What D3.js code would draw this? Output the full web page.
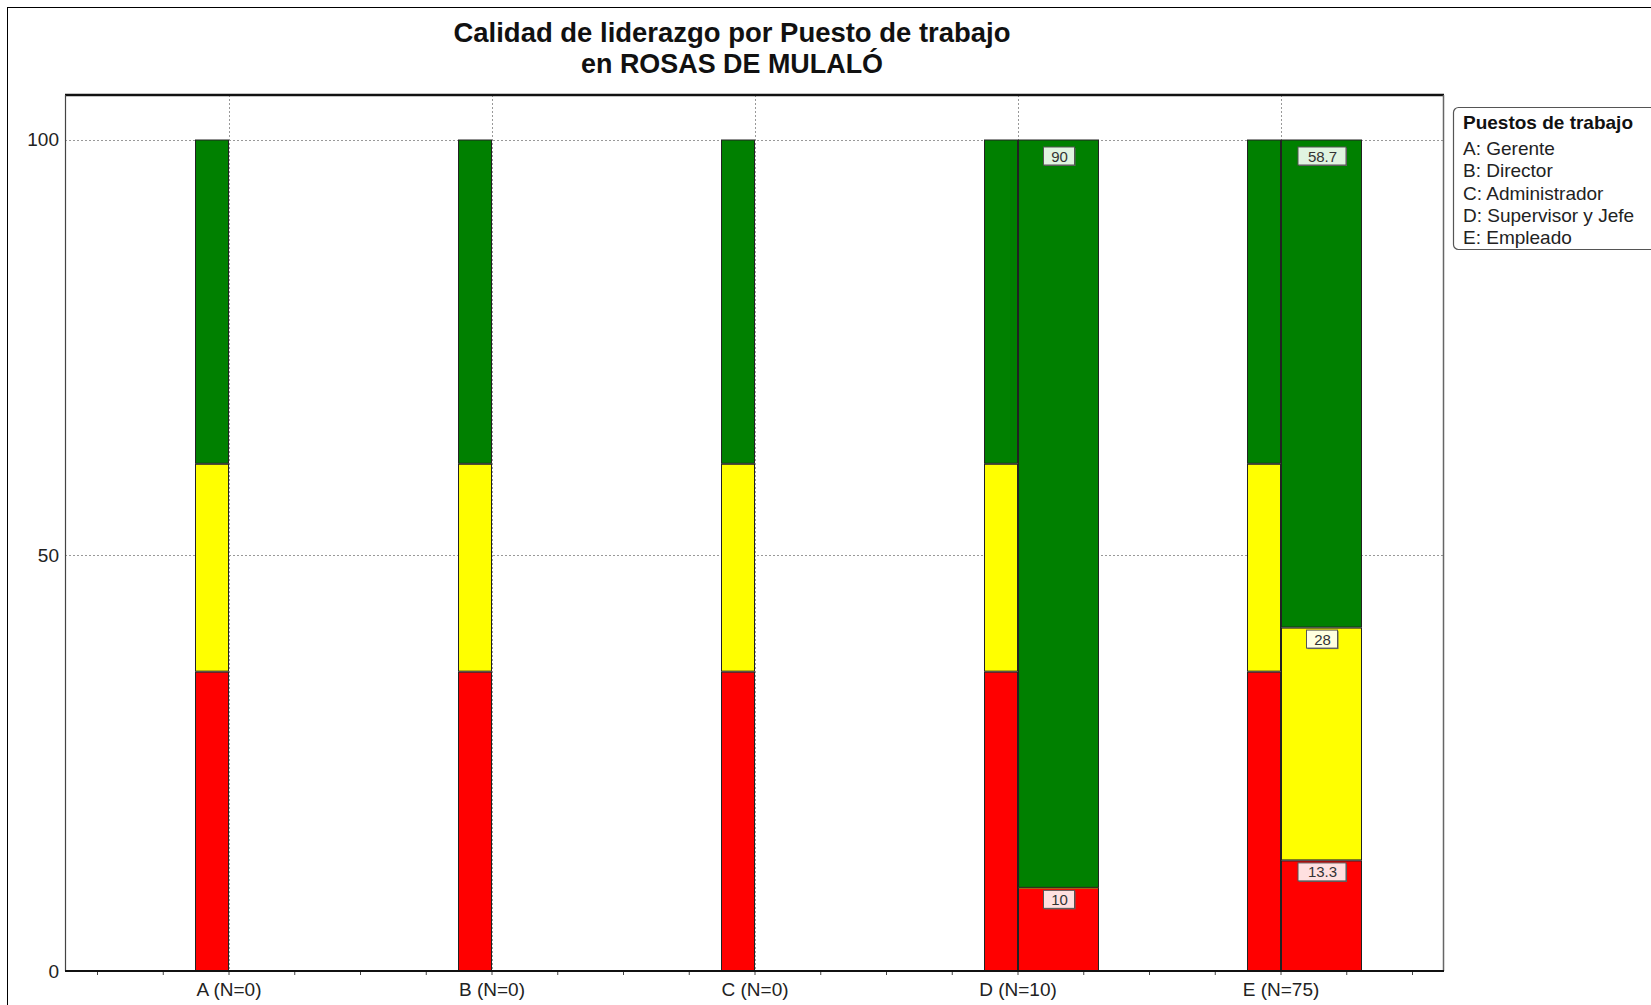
<!DOCTYPE html>
<html><head><meta charset="utf-8">
<script src="https://cdn.jsdelivr.net/npm/d3@7"></script>
<style>body{margin:0;background:#fff}svg{display:block;font-family:"Liberation Sans",Arial,sans-serif}</style>
</head><body>
<svg id="c" width="1651" height="1005"></svg>
<script>
const categories = ["A (N=0)", "B (N=0)", "C (N=0)", "D (N=10)", "E (N=75)"];
const hasData = [false, false, false, true, true];
const refRed = 36, refYellow = 25, refGreen = 39;   // reference bar (stacked)
const dataRed = [0, 0, 0, 10, 13.3];
const dataYellow = [0, 0, 0, 0, 28];
const dataGreen = [0, 0, 0, 90, 58.7];
const yTicks = [0, 50, 100];
const legendTitle = "Puestos de trabajo";
const legendItems = ["A: Gerente", "B: Director", "C: Administrador", "D: Supervisor y Jefe", "E: Empleado"];
const titleLines = ["Calidad de liderazgo por Puesto de trabajo", "en ROSAS DE MULALÓ"];

const colors = {red: "#ff0000", yellow: "#ffff00", green: "#008000"};
const labelFill = {red: "#ffe0e0", yellow: "#ffffe0", green: "#e0f4e0"};

const svg = d3.select("#c");
const L = 65, R = 1443, T = 95, B = 971;
const x = d3.scaleLinear().domain([0, 4]).range([228.5, 1280.5]);
const y = d3.scaleLinear().domain([0, 100]).range([B, 139.5]);

// outer frame
svg.append("rect").attr("x", 7.5).attr("y", 7.5).attr("width", 1700).attr("height", 1100)
  .attr("fill", "none").attr("stroke", "#000").attr("stroke-width", 1);

// title
const titleW = [557, 302];
titleLines.forEach((t, i) => svg.append("text").attr("x", 732).attr("y", 42 + i * 31)
  .attr("text-anchor", "middle").attr("font-size", 28).attr("font-weight", "bold")
  .attr("fill", "#111").attr("textLength", titleW[i]).attr("lengthAdjust", "spacingAndGlyphs").text(t));

// plot background
svg.append("rect").attr("x", L).attr("y", T).attr("width", R - L).attr("height", B - T).attr("fill", "#fff");

// grid
const g = svg.append("g");
yTicks.filter(v => v > 0).forEach(v => g.append("line").attr("x1", L).attr("x2", R)
  .attr("y1", Math.round(y(v)) + 0.5).attr("y2", Math.round(y(v)) + 0.5)
  .attr("stroke", "#999").attr("stroke-dasharray", "2,2"));
categories.forEach((c, i) => g.append("line").attr("x1", Math.round(x(i)) + 0.5).attr("x2", Math.round(x(i)) + 0.5)
  .attr("y1", T).attr("y2", B).attr("stroke", "#999").attr("stroke-dasharray", "2,2"));

// bars
const refW = 34, dataW = 81;
const bars = svg.append("g");
function seg(x0, w, v0, v1, col) {
  bars.append("rect").attr("x", x0 + 0.5).attr("y", y(v1) + 0.5).attr("width", w - 1)
    .attr("height", Math.max(0, y(v0) - y(v1) - 1)).attr("fill", colors[col])
    .attr("stroke", "#222").attr("stroke-width", 1);
}
categories.forEach((c, i) => {
  const cx = Math.round(x(i));
  seg(cx - refW, refW, 0, refRed, "red");
  seg(cx - refW, refW, refRed, refRed + refYellow, "yellow");
  seg(cx - refW, refW, refRed + refYellow, 100, "green");
  if (hasData[i]) {
    const r = dataRed[i], yl = dataYellow[i], gr = dataGreen[i];
    seg(cx, dataW, 0, r, "red");
    if (yl > 0) seg(cx, dataW, r, r + yl, "yellow");
    else bars.append("line").attr("x1", cx + 1).attr("x2", cx + dataW - 1)
      .attr("y1", y(r)).attr("y2", y(r)).attr("stroke", "#ff9900").attr("stroke-width", 1.5);
    seg(cx, dataW, r + yl, r + yl + gr, "green");
  }
});

// labels
const lab = svg.append("g");
function label(cx, topV, val, col, offset) {
  const txt = String(val);
  const w = txt.length * 8.5 + 14, h = 18;
  const yy = y(topV) + offset;
  lab.append("rect").attr("x", cx - w / 2 + 1.5).attr("y", yy + 1.5).attr("width", w).attr("height", h).attr("fill", "#666");
  lab.append("rect").attr("x", cx - w / 2 + 0.5).attr("y", yy + 0.5).attr("width", w).attr("height", h)
    .attr("fill", labelFill[col]).attr("stroke", "#555").attr("stroke-width", 1);
  lab.append("text").attr("x", cx + 1).attr("y", yy + 15).attr("text-anchor", "middle")
    .attr("font-size", 15).attr("fill", "#333").text(txt);
}
categories.forEach((c, i) => {
  if (!hasData[i]) return;
  const cx = Math.round(x(i)) + dataW / 2;
  const r = dataRed[i], yl = dataYellow[i], gr = dataGreen[i];
  label(cx, r + yl + gr, gr, "green", 7);
  if (yl > 0) label(cx, r + yl, yl, "yellow", 2);
  label(cx, r, r, "red", 2);
});

// frame lines
svg.append("line").attr("x1", L).attr("x2", R + 1).attr("y1", T).attr("y2", T).attr("stroke", "#111").attr("stroke-width", 2.5);
svg.append("line").attr("x1", L + 0.5).attr("x2", L + 0.5).attr("y1", T).attr("y2", B).attr("stroke", "#444").attr("stroke-width", 1.2);
svg.append("line").attr("x1", R + 0.5).attr("x2", R + 0.5).attr("y1", T).attr("y2", B).attr("stroke", "#666").attr("stroke-width", 1.5);

// axes
const xMinor = d3.range(-0.5, 4.6, 0.25);
svg.append("g").attr("transform", `translate(0,${B})`)
  .call(d3.axisBottom(x).tickValues(xMinor).tickSize(4).tickFormat(""))
  .call(s => s.select(".domain").remove())
  .call(s => s.selectAll("line").attr("stroke", "#444"));
svg.append("line").attr("x1", L).attr("x2", R + 1).attr("y1", B).attr("y2", B).attr("stroke", "#111").attr("stroke-width", 2);
svg.append("g").attr("transform", `translate(0,${B})`)
  .call(d3.axisBottom(x).tickValues(d3.range(categories.length)).tickSize(0).tickPadding(12).tickFormat(i => categories[i]))
  .call(s => s.select(".domain").remove())
  .call(s => s.selectAll("text").attr("font-size", 19).attr("fill", "#222").attr("font-family", "Liberation Sans, Arial, sans-serif"));
svg.append("g").attr("transform", `translate(${L},0)`)
  .call(d3.axisLeft(y).tickValues(yTicks).tickSize(0).tickPadding(6).tickFormat(d3.format("d")))
  .call(s => s.select(".domain").remove())
  .call(s => s.selectAll("text").attr("font-size", 19).attr("fill", "#222").attr("font-family", "Liberation Sans, Arial, sans-serif"));

// legend
const lg = svg.append("g");
lg.append("rect").attr("x", 1453.5).attr("y", 107.5).attr("width", 260).attr("height", 142).attr("rx", 5)
  .attr("fill", "#fff").attr("stroke", "#555").attr("stroke-width", 1.2);
lg.append("text").attr("x", 1463).attr("y", 129).attr("font-size", 19).attr("font-weight", "bold").attr("fill", "#111").text(legendTitle);
legendItems.forEach((t, i) => lg.append("text").attr("x", 1463).attr("y", 155 + i * 22.3)
  .attr("font-size", 19).attr("fill", "#222").text(t));
</script>
</body></html>
